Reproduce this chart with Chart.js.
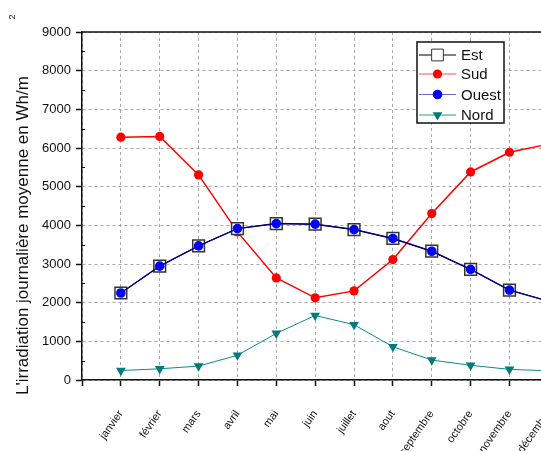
<!DOCTYPE html>
<html>
<head>
<meta charset="utf-8">
<script src="https://cdn.jsdelivr.net/npm/chart.js@4"></script>
<style>
  html, body { margin: 0; padding: 0; background: #fff; overflow: hidden; }
  #wrap { width: 541px; height: 451px; overflow: hidden; position: relative; }
  canvas { display: block; }
</style>
</head>
<body>
<div id="wrap"><canvas id="c" width="597" height="451"></canvas></div>
<script>
// Irradiation journalière moyenne par orientation (Wh/m²)
const months = ['janvier', 'février', 'mars', 'avril', 'mai', 'juin', 'juillet', 'aout', 'septembre', 'octobre', 'novembre', 'décembre'];
const estValues   = [2250, 2945, 3470, 3915, 4045, 4030, 3890, 3660, 3330, 2860, 2325, 2040];
const sudValues   = [6280, 6300, 5305, 3830, 2640, 2125, 2305, 3115, 4305, 5380, 5890, 6100];
const ouestValues = [2250, 2945, 3470, 3915, 4045, 4030, 3890, 3660, 3330, 2860, 2325, 2040];
const nordValues  = [245, 290, 360, 640, 1205, 1670, 1430, 860, 515, 380, 275, 240];
const yTicks = [0, 1000, 2000, 3000, 4000, 5000, 6000, 7000, 8000, 9000];
const yTitle = "L'irradiation journalière moyenne en Wh/m";
const yTitleExp = '2';

const FONT = '"Liberation Sans", Arial, sans-serif';
const pts = vals => vals.map((v, i) => ({ x: i + 1, y: v }));

// Frame, axis title and line+marker legend
const decorations = {
  id: 'decorations',
  afterDraw(chart) {
    const { ctx, chartArea: a } = chart;
    const ys = chart.scales.y;
    ctx.save();

    // top border of the plot
    ctx.strokeStyle = '#111';
    ctx.lineWidth = 1.5;
    ctx.beginPath();
    ctx.moveTo(a.left, a.top);
    ctx.lineTo(a.right, a.top);
    ctx.stroke();

    // small inner minor ticks on the value axis
    ctx.lineWidth = 1;
    ctx.beginPath();
    for (let v = 500; v < 9000; v += 1000) {
      const py = Math.round(ys.getPixelForValue(v)) + 0.5;
      ctx.moveTo(a.left, py);
      ctx.lineTo(a.left + 3, py);
    }
    ctx.stroke();

    // rotated axis title with its exponent
    ctx.fillStyle = '#111';
    ctx.save();
    ctx.translate(23, 395);
    ctx.rotate(-Math.PI / 2);
    ctx.font = '17px ' + FONT;
    ctx.textAlign = 'left';
    ctx.textBaseline = 'middle';
    ctx.fillText(yTitle, 0, 0);
    ctx.restore();
    ctx.save();
    ctx.translate(13, 17);
    ctx.rotate(-Math.PI / 2);
    ctx.font = '9px ' + FONT;
    ctx.textAlign = 'center';
    ctx.textBaseline = 'middle';
    ctx.fillText(yTitleExp, 0, 0);
    ctx.restore();

    // legend box
    const bx = 417, by = 42, bw = 87, bh = 81;
    ctx.fillStyle = '#fff';
    ctx.fillRect(bx, by, bw, bh);
    ctx.strokeStyle = '#111';
    ctx.lineWidth = 1.5;
    ctx.strokeRect(bx, by, bw, bh);

    const rowsY = [55, 74, 94.5, 115];
    chart.data.datasets.forEach((ds, i) => {
      const y = rowsY[i];
      ctx.strokeStyle = ds.legendLine || ds.borderColor;
      ctx.lineWidth = 1;
      ctx.beginPath();
      ctx.moveTo(419, y);
      ctx.lineTo(456, y);
      ctx.stroke();
      ctx.fillStyle = ds.pointBackgroundColor;
      ctx.strokeStyle = ds.pointBorderColor;
      Chart.helpers.drawPoint(ctx, {
        pointStyle: ds.pointStyle,
        radius: ds.pointRadius,
        rotation: ds.pointRotation || 0,
        borderWidth: ds.pointBorderWidth
      }, 437.5, y);
      ctx.fillStyle = '#111';
      ctx.font = '15px ' + FONT;
      ctx.textAlign = 'left';
      ctx.textBaseline = 'middle';
      ctx.fillText(ds.label, 461, y + 1);
    });
    ctx.restore();
  }
};

new Chart(document.getElementById('c'), {
  type: 'line',
  data: {
    datasets: [
      {
        label: 'Est', data: pts(estValues), order: 1,
        borderColor: '#000', borderWidth: 1, legendLine: '#000',
        pointStyle: 'rect', pointRadius: 8.3, pointBorderWidth: 1.5,
        pointBackgroundColor: '#fff', pointBorderColor: '#333'
      },
      {
        label: 'Sud', data: pts(sudValues), order: 2,
        borderColor: '#ff0000', borderWidth: 1.5, legendLine: '#ff5050',
        pointStyle: 'circle', pointRadius: 4.6, pointBorderWidth: 0,
        pointBackgroundColor: '#ff0000', pointBorderColor: '#ff0000'
      },
      {
        label: 'Ouest', data: pts(ouestValues), order: 0,
        borderColor: '#000080', borderWidth: 1.5, legendLine: '#6a6ab8',
        pointStyle: 'circle', pointRadius: 4.8, pointBorderWidth: 0,
        pointBackgroundColor: '#0000ff', pointBorderColor: '#0000ff'
      },
      {
        label: 'Nord', data: pts(nordValues), order: 3,
        borderColor: '#0a8a8a', borderWidth: 1, legendLine: '#2a9a9a',
        pointStyle: 'triangle', pointRotation: 180, pointRadius: 5.6, pointBorderWidth: 0,
        pointBackgroundColor: '#007b7b', pointBorderColor: '#007b7b'
      }
    ]
  },
  options: {
    responsive: false,
    animation: false,
    devicePixelRatio: 1,
    layout: { padding: { left: 0, top: 32, right: 4.25, bottom: 0 } },
    plugins: { legend: { display: false }, tooltip: { enabled: false } },
    elements: { line: { tension: 0 } },
    scales: {
      x: {
        type: 'linear', min: 0, max: 13,
        afterFit: s => { s.height = 71; s.paddingLeft = 0; s.paddingRight = 0; },
        afterBuildTicks: s => { s.ticks = Array.from({ length: 14 }, (_, i) => ({ value: i })); },
        grid: { color: '#a8a8a8', lineWidth: 1, tickLength: 6, tickColor: '#111', tickWidth: 1.5 },
        border: { color: '#111', width: 1.5, dash: [3, 3] },
        ticks: {
          autoSkip: false, maxRotation: 55, minRotation: 55, padding: 22,
          color: '#111', font: { family: FONT, size: 11 },
          callback: v => months[v - 1] || ''
        }
      },
      y: {
        min: 0, max: 9000,
        afterFit: s => { s.width = 82; s.paddingTop = 0; s.paddingBottom = 0; },
        afterBuildTicks: s => { s.ticks = yTicks.map(v => ({ value: v })); },
        grid: { color: '#a8a8a8', lineWidth: 1, tickLength: 6, tickColor: '#111', tickWidth: 1.5 },
        border: { color: '#111', width: 1.5, dash: [3, 3] },
        ticks: { padding: 5, color: '#111', font: { family: FONT, size: 13 }, callback: v => String(v) }
      }
    }
  },
  plugins: [decorations]
});
</script>
</body>
</html>
